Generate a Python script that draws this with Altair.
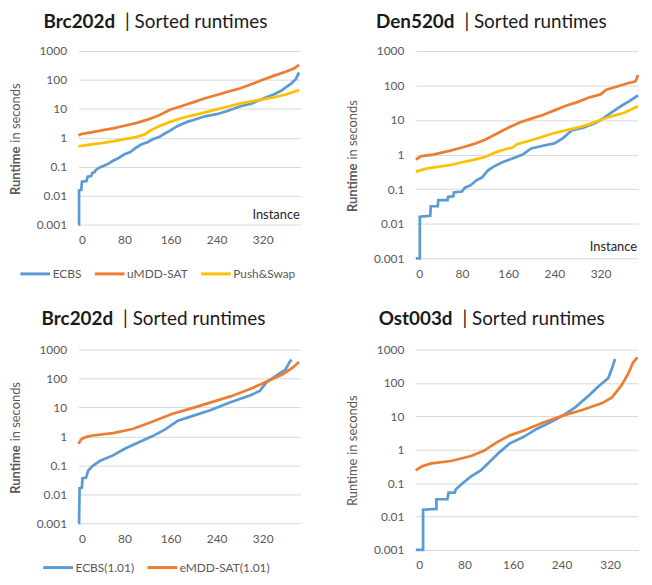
import altair as alt
import pandas as pd

FONT = "Lato"
BLUE, ORANGE, YELLOW = "#5B9BD5", "#ED7D31", "#FFC000"

X_TICKS = [0, 80, 160, 240, 320]
Y_TICKS = [0.001, 0.01, 0.1, 1, 10, 100, 1000]

# ---- Panel 1: Brc202d (ECBS / uMDD-SAT / Push&Swap)
p1_names = ["ECBS", "uMDD-SAT", "Push&Swap"]
p1_ecbs_x = [0, 1, 1, 5, 6, 14, 16, 22, 24, 28, 30, 35, 40, 50, 60, 70, 80, 90, 100, 110,
             120, 130, 140, 150, 160, 170, 180, 190, 200, 220, 240, 260, 280, 300, 320, 340,
             352, 360, 370, 378, 383]
p1_ecbs_y = [0.001, 0.001, 0.015, 0.016, 0.03, 0.032, 0.045, 0.047, 0.06, 0.065, 0.075, 0.09,
             0.1, 0.12, 0.16, 0.2, 0.27, 0.32, 0.45, 0.6, 0.7, 0.9, 1.05, 1.4, 1.8, 2.4, 3.0,
             3.6, 4.1, 5.5, 6.5, 8.5, 12, 15, 22, 32, 42, 55, 75, 110, 180]
p1_umdd_x = [0, 5, 20, 40, 60, 80, 100, 120, 140, 160, 180, 200, 220, 240, 260, 280, 300, 320,
             340, 360, 375, 383]
p1_umdd_y = [1.2, 1.35, 1.5, 1.8, 2.1, 2.6, 3.2, 4.2, 6.0, 9.5, 12.5, 17, 23, 30, 39, 50, 70,
             100, 140, 190, 250, 330]
p1_push_x = [0, 20, 40, 60, 80, 100, 115, 125, 140, 160, 180, 200, 220, 240, 260, 280, 300,
             320, 340, 360, 383]
p1_push_y = [0.5, 0.58, 0.65, 0.75, 0.9, 1.05, 1.3, 1.8, 2.5, 3.6, 4.8, 6.0, 7.5, 9.5, 12, 15,
             18, 21, 25, 31, 44]

# ---- Panel 2: Den520d
p2_umdd_x = [0, 10, 30, 60, 80, 100, 120, 140, 160, 180, 200, 220, 240, 260, 280, 300, 320,
             330, 350, 370, 380, 382, 385]
p2_umdd_y = [0.72, 0.9, 1.0, 1.3, 1.6, 2.0, 2.7, 4.0, 6.0, 8.5, 11, 14, 19, 26, 33, 45, 55,
             75, 95, 120, 130, 150, 200]
p2_push_x = [0, 20, 60, 80, 100, 120, 140, 160, 168, 175, 200, 240, 280, 300, 320, 340, 360, 385]
p2_push_y = [0.32, 0.4, 0.5, 0.6, 0.7, 0.85, 1.2, 1.5, 1.6, 2.0, 2.6, 4.2, 6.0, 7.5, 10, 13, 16, 25]
p2_ecbs_x = [0, 7, 7, 25, 26, 38, 39, 55, 56, 65, 66, 80, 85, 95, 105, 115, 125, 135, 150, 170,
             185, 200, 220, 240, 255, 270, 290, 310, 320, 340, 355, 370, 385]
p2_ecbs_y = [0.001, 0.001, 0.016, 0.017, 0.032, 0.032, 0.048, 0.048, 0.06, 0.062, 0.08, 0.085,
             0.11, 0.13, 0.18, 0.22, 0.35, 0.45, 0.6, 0.8, 1.0, 1.5, 1.8, 2.1, 3.0, 5.0, 6.0,
             8.0, 10, 17, 25, 35, 52]

# ---- Panel 3: Brc202d (suboptimal 1.01)
p3_names = ["ECBS(1.01)", "eMDD-SAT(1.01)"]
p3_ecbs_x = [0, 1, 2, 6, 7, 13, 17, 25, 37, 60, 82, 105, 128, 150, 173, 196, 230, 264, 298,
             315, 326, 343, 360, 366, 370]
p3_ecbs_y = [0.001, 0.001, 0.016, 0.017, 0.036, 0.037, 0.066, 0.096, 0.14, 0.22, 0.39, 0.63,
             1.0, 1.7, 3.5, 4.9, 8.1, 15, 26, 37, 72, 122, 206, 350, 450]
p3_emdd_x = [0, 4, 8, 15, 25, 60, 94, 128, 162, 196, 230, 264, 298, 332, 355, 372, 383]
p3_emdd_y = [0.55, 0.75, 0.87, 0.98, 1.07, 1.3, 1.8, 3.2, 5.9, 9.3, 15, 24, 43, 87, 139, 236, 370]

# ---- Panel 4: Ost003d
p4_ecbs_x = [0, 12, 12, 34, 34, 52, 54, 64, 66, 80, 91, 107, 123, 139, 155, 177, 199, 220,
             242, 263, 285, 301, 317, 323, 328]
p4_ecbs_y = [0.001, 0.001, 0.016, 0.017, 0.033, 0.033, 0.052, 0.052, 0.066, 0.11, 0.16, 0.24,
             0.46, 0.88, 1.56, 2.4, 4.2, 6.4, 10.5, 19, 42, 80, 140, 270, 520]
p4_emdd_x = [0, 10, 26, 58, 91, 112, 134, 155, 177, 209, 242, 274, 307, 323, 339, 350, 358, 365]
p4_emdd_y = [0.24, 0.32, 0.39, 0.46, 0.65, 0.93, 1.7, 2.7, 3.7, 6.4, 10.5, 15.5, 25, 37, 86,
             193, 415, 580]

TITLE_REST = "| Sorted runtimes"
YT_BOLD = "Runtime"
YT_REST = "in seconds"
INSTANCE = "Instance"


def make_df(series_list):
    rows = []
    for name, xs, ys in series_list:
        for i, (x, y) in enumerate(zip(xs, ys)):
            rows.append({"series": name, "x": x, "y": y, "i": i})
    return pd.DataFrame(rows)


def one(text):
    return alt.Chart(pd.DataFrame({"t": [text]}))


def panel(df, names, colors, xmax, w, h, title_bold, bold_end, title_y,
          ytitle_bold=True, instance_y=None, legend_x=None, legend_y=None):
    if legend_x is not None:
        legend = alt.Legend(orient="none", legendX=legend_x, legendY=legend_y,
                            direction="horizontal", title=None, symbolType="stroke",
                            symbolSize=900, symbolStrokeWidth=3, labelFont=FONT,
                            labelFontSize=12, labelColor="#595959", columnPadding=6,
                            labelOffset=1, padding=0)
    else:
        legend = None
    lines = alt.Chart(df).mark_line(strokeWidth=2.75).encode(
        x=alt.X("x:Q", scale=alt.Scale(domain=[0, xmax], nice=False, zero=False),
                axis=alt.Axis(values=X_TICKS, title=None, grid=False, domain=False,
                              ticks=False, labelPadding=10, labelFont=FONT, labelFontSize=12,
                              labelColor="#595959")),
        y=alt.Y("y:Q", scale=alt.Scale(type="log", domain=[0.001, 1000], nice=False),
                axis=alt.Axis(values=Y_TICKS, format="~g", title=None, grid=True,
                              gridColor="#d9d9d9", gridWidth=1, domain=False, ticks=False,
                              labelPadding=12, labelFont=FONT, labelFontSize=12,
                              labelColor="#595959")),
        color=alt.Color("series:N", scale=alt.Scale(domain=names, range=colors), legend=legend),
        order="i:Q",
    )
    t1 = one(title_bold).mark_text(align="right", baseline="alphabetic", font=FONT,
                                   fontSize=19, fontWeight="bold", color="#1a1a1a").encode(
        text="t:N", x=alt.value(bold_end), y=alt.value(title_y))
    t2 = one(TITLE_REST).mark_text(align="left", baseline="alphabetic", font=FONT,
                                   fontSize=19, color="#1a1a1a").encode(
        text="t:N", x=alt.value(bold_end + 10), y=alt.value(title_y))
    join = h / 2 + 9
    y1 = one(YT_BOLD).mark_text(align="right", baseline="middle", angle=270, font=FONT,
                                fontSize=13, fontWeight="bold" if ytitle_bold else "normal",
                                color="#595959").encode(
        text="t:N", x=alt.value(-63), y=alt.value(join))
    y2 = one(YT_REST).mark_text(align="left", baseline="middle", angle=270, font=FONT,
                                fontSize=13, color="#595959").encode(
        text="t:N", x=alt.value(-63), y=alt.value(join - 4))
    layers = [lines, t1, t2, y1, y2]
    if instance_y is not None:
        inst = one(INSTANCE).mark_text(align="right", baseline="alphabetic", font=FONT,
                                       fontSize=13, color="#262626").encode(
            text="t:N", x=alt.value(w - 1), y=alt.value(instance_y))
        layers.append(inst)
    return alt.layer(*layers).properties(width=w, height=h).resolve_scale(color="independent")


df1 = make_df([("ECBS", p1_ecbs_x, p1_ecbs_y), ("uMDD-SAT", p1_umdd_x, p1_umdd_y),
               ("Push&Swap", p1_push_x, p1_push_y)])
df2 = make_df([("ECBS", p2_ecbs_x, p2_ecbs_y), ("uMDD-SAT", p2_umdd_x, p2_umdd_y),
               ("Push&Swap", p2_push_x, p2_push_y)])
df3 = make_df([("ECBS(1.01)", p3_ecbs_x, p3_ecbs_y), ("eMDD-SAT(1.01)", p3_emdd_x, p3_emdd_y)])
df4 = make_df([("ECBS(1.01)", p4_ecbs_x, p4_ecbs_y), ("eMDD-SAT(1.01)", p4_emdd_x, p4_emdd_y)])

c1 = panel(df1, p1_names, [BLUE, ORANGE, YELLOW], 386, 224, 175, "Brc202d", 37, -23,
           instance_y=169, legend_x=-60, legend_y=208)
c2 = panel(df2, p1_names, [BLUE, ORANGE, YELLOW], 385, 224, 209, "Den520d", 39, -23,
           instance_y=202)
c3 = panel(df3, p3_names, [BLUE, ORANGE], 386, 224, 175, "Brc202d", 35, -25,
           legend_x=-37, legend_y=203)
c4 = panel(df4, p3_names, [BLUE, ORANGE], 366, 224, 202, "Ost003d", 37, -25,
           ytitle_bold=False)

chart = alt.concat(c1, c2, c3, c4, columns=2, bounds="flush",
                   spacing={"row": 92, "column": 116}).resolve_scale(
    color="independent").properties(
    padding={"left": 2, "top": 3, "right": 0, "bottom": 0},
    background="white",
).configure_view(stroke=None)

chart.save("out.html", embed_options={"renderer": "svg", "actions": False})
